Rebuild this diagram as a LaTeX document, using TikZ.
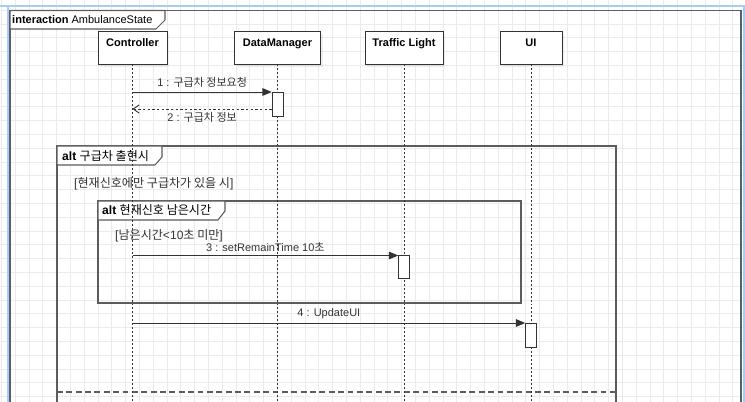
\documentclass[tikz,border=0pt]{standalone}
\usepackage{fontspec}
\setmainfont{Liberation Sans}
\newfontfamily\kr{Noto Sans CJK KR}
\usepackage{tikz}
\usetikzlibrary{arrows.meta,positioning,shadows}

\definecolor{gridc}{HTML}{EBEBEB}
\definecolor{linec}{HTML}{333333}
\definecolor{framec}{HTML}{56606C}
\definecolor{altc}{HTML}{5C5C5C}
\definecolor{selc}{HTML}{A9CBF5}
\definecolor{txtc}{HTML}{333333}

\begin{document}
\begin{tikzpicture}[
    x=0.03cm, y=-0.03cm,
    every node/.style={font=\fontsize{9.4}{11}\selectfont, text=txtc},
    gridline/.style={draw=gridc, line width=0.7pt},
    sel/.style={draw=selc, line width=1.8pt},
    frame/.style={draw=framec, line width=1pt},
    altframe/.style={draw=altc, line width=0.9pt},
    tab/.style={draw=altc, fill=white, line width=0.9pt},
    lifebox/.style={draw=linec, fill=white, anchor=north, inner xsep=0pt, inner ysep=0pt,
        text height=12.8pt, text depth=15.4pt, text=black,
        font=\fontsize{9.4}{11}\selectfont\bfseries,
        drop shadow={shadow xshift=2pt, shadow yshift=-2pt, opacity=0.12}},
    lifeline/.style={draw=linec, line width=0.7pt, dash pattern=on 1.7pt off 1.7pt},
    actbox/.style={draw=linec, fill=white, anchor=north, minimum width=0.33cm, inner sep=0pt},
    msg/.style={draw=linec, line width=0.8pt, -{Triangle[length=8pt,width=6.5pt]}},
    ret/.style={draw=linec, line width=0.8pt, dash pattern=on 2pt off 2pt,
        -{Straight Barb[length=5pt,width=7pt]}},
    lbl/.style={anchor=west, inner sep=0pt},
    fraglbl/.style={anchor=west, inner sep=0pt, font=\fontsize{10.3}{12}\selectfont},
]

% ---- fond : grille ----
\useasboundingbox (0,0) rectangle (745,402);
\clip (0,0) rectangle (745,402);
\fill[white] (0,0) rectangle (745,402);
\foreach \gx in {1.4,15.2,...,745} {
    \draw[gridline] (\gx,0) -- (\gx,402);
}
\foreach \gy in {-3.6,10.2,...,402} {
    \draw[gridline] (0,\gy) -- (745,\gy);
}
\draw[sel] (0,6) -- (745,6);
\draw[sel] (8,6) -- (8,402);
\draw[sel] (744,6) -- (744,402);

% ---- cadre interaction ----
\draw[frame] (10,10.5) rectangle (741,410);
\draw[tab] (10,10.5) -- (165,10.5) -- (165,20) -- (156,29) -- (10,29) -- cycle;
\node[lbl, text=black] (title) at (12,19.5) {\textbf{interaction} AmbulanceState};

% ---- fragments alt ----
\draw[altframe] (57,146) rectangle (616,410);
\draw[tab] (57,146) -- (162,146) -- (162,157) -- (155,165) -- (57,165) -- cycle;
\node[fraglbl, text=black] (alt1) at (62,155.5) {\textbf{alt} {\kr 구급차 출현시}};
\node[fraglbl] (guard1) at (74,184) {[{\kr 현재신호에만 구급차가 있을 시}]};
\draw[altframe, dash pattern=on 5pt off 3pt] (57,392) -- (616,392);

\draw[altframe] (98,201) rectangle (521,303);
\draw[tab] (98,201) -- (225,201) -- (225,211) -- (218,220) -- (98,220) -- cycle;
\node[fraglbl, text=black] (alt2) at (102,210) {\textbf{alt} {\kr 현재신호 남은시간}};
\node[fraglbl] (guard2) at (115,236) {[{\kr 남은시간}<10{\kr 초 미만}]};

% ---- lignes de vie ----
\coordinate (bot) at (0,405);
\node[lifebox, minimum width=2.07cm] (ctrl) at (132.5,31) {Controller};
\node[lifebox, minimum width=2.58cm] (dm) at (277.5,31) {DataManager};
\node[lifebox, minimum width=2.34cm] (tl) at (404,31) {Traffic Light};
\node[lifebox, minimum width=1.86cm] (ui) at (531,31) {UI};
\foreach \n in {ctrl,dm,tl,ui} {
    \draw[lifeline] (\n.south) -- (\n.south |- bot);
}

% ---- messages ----
\coordinate (r1) at (0,92);
\coordinate (r2) at (0,109);
\coordinate (r3) at (0,255.5);
\coordinate (r4) at (0,323);

\node[actbox, minimum height=0.72cm] (act1) at (dm |- r1) {};
\node[actbox, minimum height=0.69cm] (act3) at (tl |- r3) {};
\node[actbox, minimum height=0.72cm] (act4) at (ui |- r4) {};

\draw[msg] (ctrl |- r1) -- (act1.north west)
    node[midway, yshift=8.5pt] (m1) {1 : {\kr 구급차 정보요청}};
\draw[ret] (act1.west |- r2) -- (ctrl |- r2)
    node[midway, yshift=-7pt] (m2) {2 : {\kr 구급차 정보}};
\draw[msg] (ctrl |- r3) -- (act3.north west)
    node[midway, yshift=7.5pt] (m3) {3 : setRemainTime 10{\kr 초}};
\draw[msg] (ctrl |- r4) -- (act4.north west)
    node[midway, yshift=7.7pt] (m4) {4 : UpdateUI};

\end{tikzpicture}
\end{document}
